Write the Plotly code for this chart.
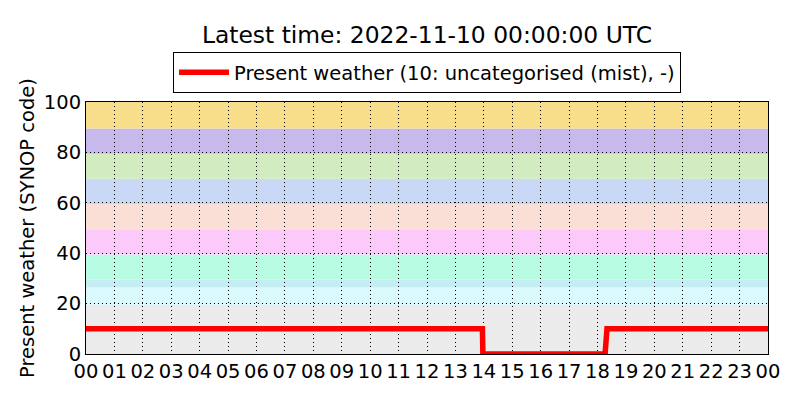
import plotly.graph_objects as go

# Data
times = ["2022-11-09 00:00", "2022-11-09 13:57", "2022-11-09 13:58",
         "2022-11-09 18:16", "2022-11-09 18:20", "2022-11-10 00:00"]
values = [10, 10, 0, 0, 10, 10]

band_edges = [0, 19.5, 26.5, 29.5, 39.5, 49.5, 59.5, 69.5, 79.5, 89.5, 100]
band_colors = ["#ebebeb", "#d9f9fd", "#c6ecf4", "#b8fde3", "#fbcafb",
               "#f9dfd6", "#c9d8f5", "#d3ebc0", "#c8b9ed", "#f8de8a"]

tick_vals = ["2022-11-09 %02d:00" % h for h in range(24)] + ["2022-11-10 00:00"]
tick_text = ["%02d" % h for h in range(24)] + ["00"]

FONT = "DejaVu Sans"
FS = 19.5

fig = go.Figure()
fig.add_trace(go.Scatter(
    x=times, y=values, mode="lines+markers",
    line=dict(color="#ff0000", width=5.5),
    marker=dict(color="#ff0000", size=4),
    name="Present weather (10: uncategorised (mist), -)",
))

shapes = []
for i, c in enumerate(band_colors):
    shapes.append(dict(type="rect", xref="paper", yref="y", x0=0, x1=1,
                       y0=band_edges[i], y1=band_edges[i + 1],
                       fillcolor=c, line=dict(width=0), layer="below"))

fig.update_layout(
    width=800, height=400,
    margin=dict(l=78, r=40, t=94, b=54),
    paper_bgcolor="white", plot_bgcolor="white",
    font=dict(family=FONT, size=FS, color="black"),
    shapes=shapes,
    title=dict(text="Latest time: 2022-11-10 00:00:00 UTC",
               x=419 / 800, xanchor="center",
               y=1 - 27 / 400, yanchor="middle",
               font=dict(size=23.4, family=FONT, color="black")),
    showlegend=True,
    legend=dict(orientation="h", x=0.5, xanchor="center",
                y=1.117, yanchor="middle", itemwidth=50,
                bordercolor="black", borderwidth=1, bgcolor="white",
                font=dict(size=FS, family=FONT)),
    xaxis=dict(type="date",
               range=["2022-11-09 00:00", "2022-11-10 00:00"],
               tickvals=tick_vals, ticktext=tick_text,
               showgrid=True, gridcolor="black", gridwidth=1, griddash="1px,3px",
               showline=True, linecolor="black", linewidth=1, mirror=True,
               ticks="", zeroline=False,
               tickfont=dict(size=FS, family=FONT, color="black")),
    yaxis=dict(range=[0, 100], tickvals=[0, 20, 40, 60, 80, 100],
               showgrid=True, gridcolor="black", gridwidth=1, griddash="1px,3px",
               showline=True, linecolor="black", linewidth=1, mirror=True,
               ticks="", zeroline=False,
               title=dict(text="Present weather (SYNOP code)", standoff=4,
                          font=dict(size=FS, family=FONT)),
               tickfont=dict(size=FS, family=FONT, color="black")),
)

fig.write_html("out.html")
